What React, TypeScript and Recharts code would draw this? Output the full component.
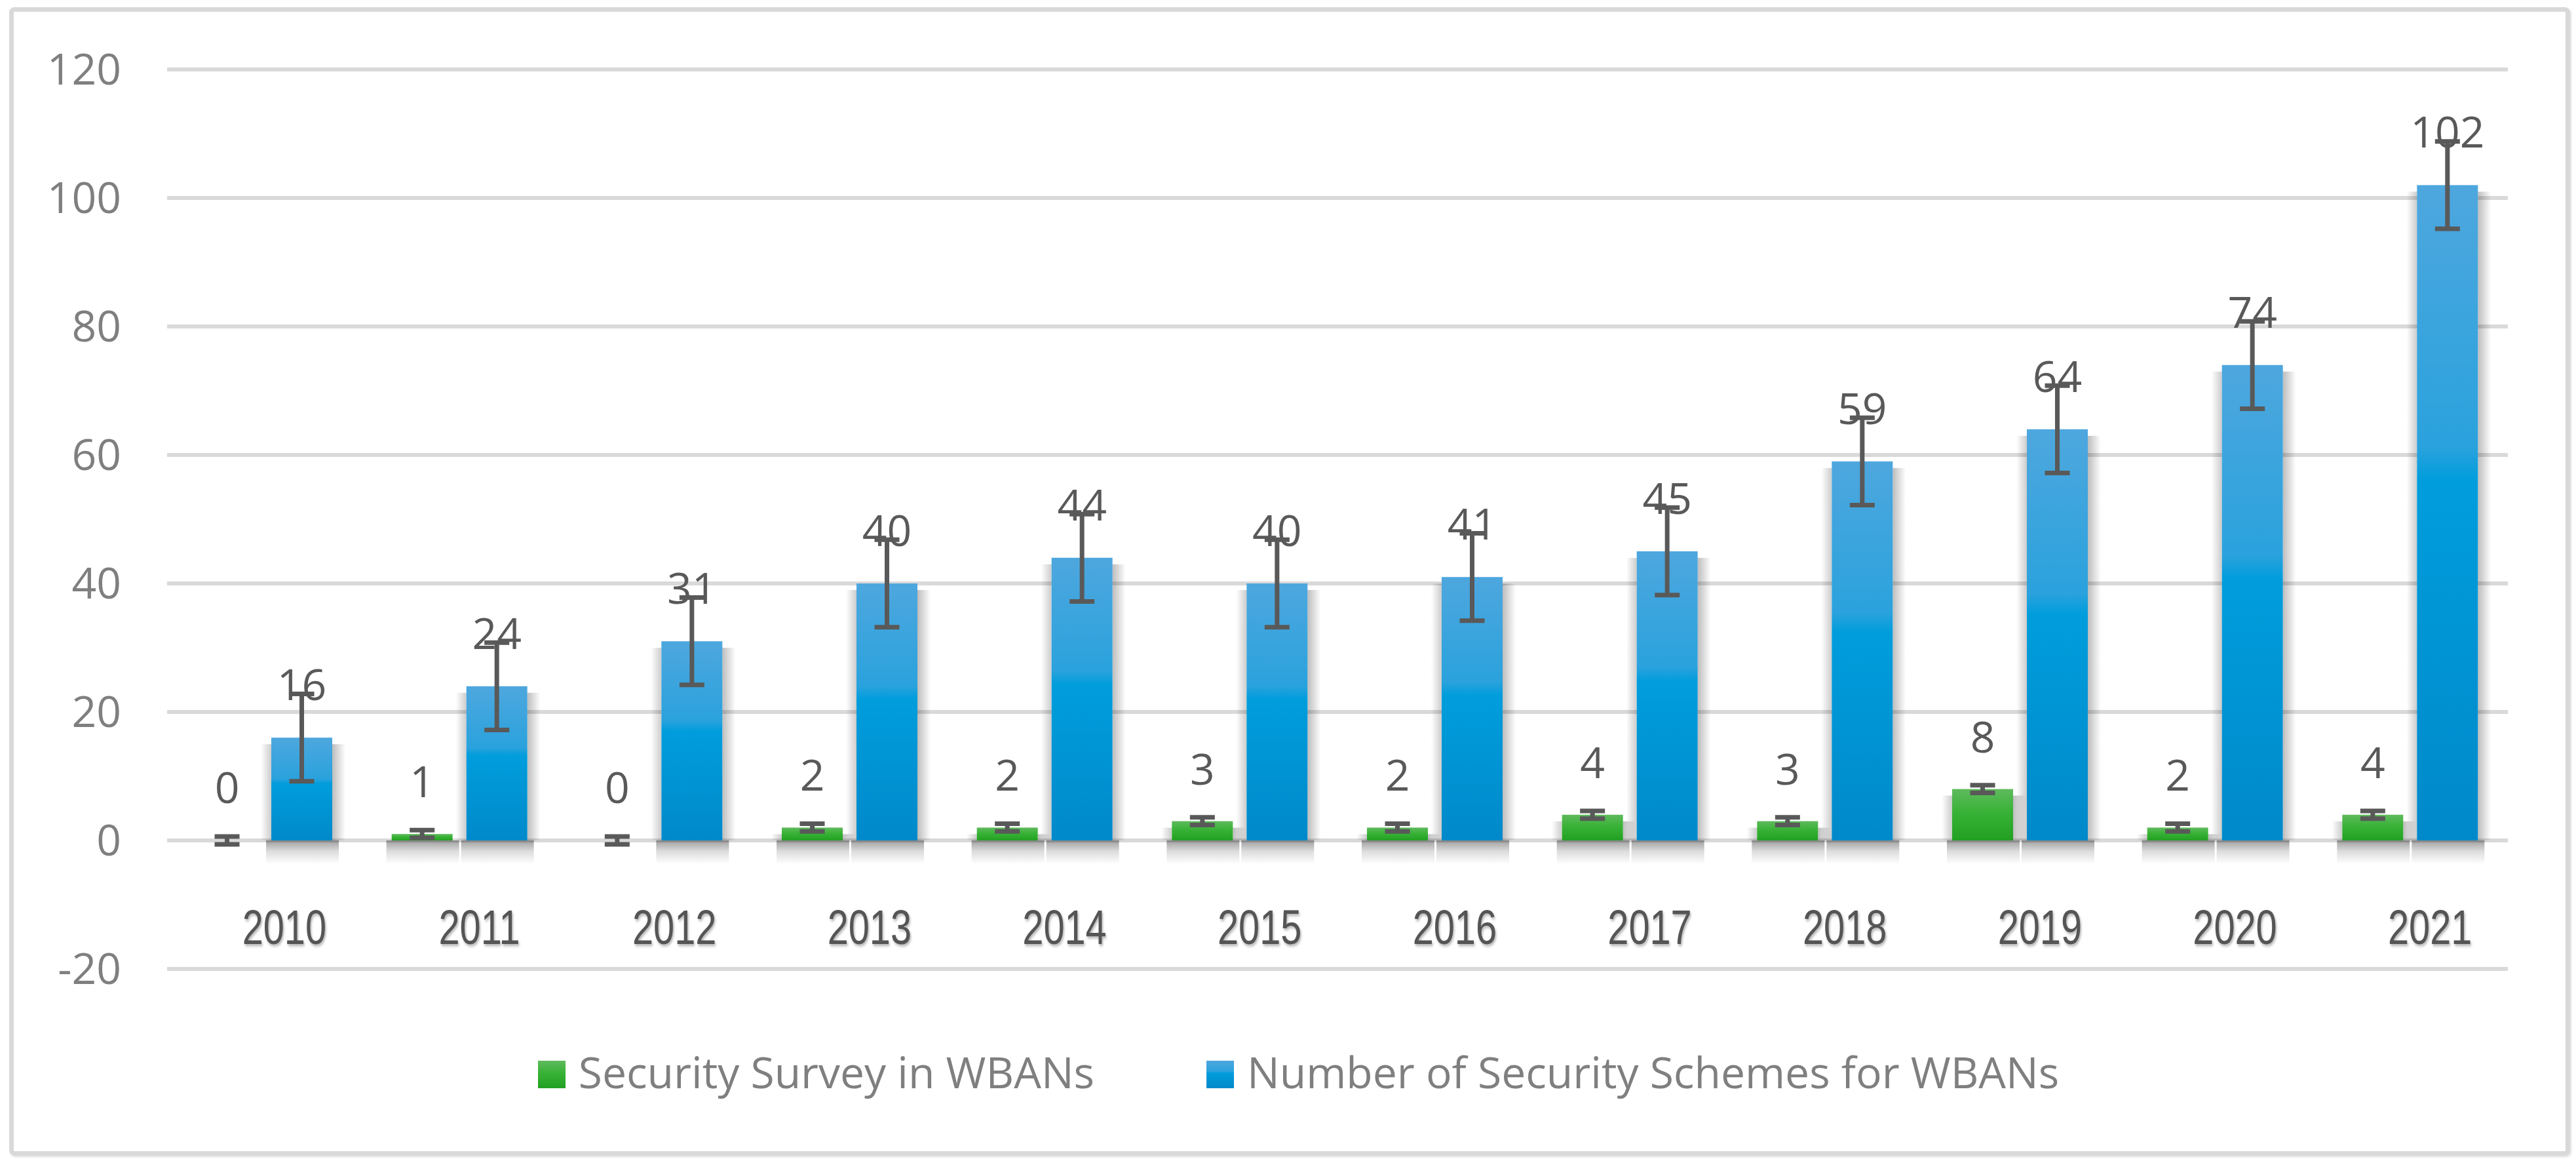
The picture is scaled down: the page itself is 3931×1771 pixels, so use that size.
import { BarChart, Bar, XAxis, YAxis, CartesianGrid, Legend, LabelList, ErrorBar } from 'recharts'

const years = ['2010', '2011', '2012', '2013', '2014', '2015', '2016', '2017', '2018', '2019', '2020', '2021']
const surveys = [0, 1, 0, 2, 2, 3, 2, 4, 3, 8, 2, 4]
const surveyErr = [0.6, 0.6, 0.6, 0.6, 0.6, 0.6, 0.6, 0.6, 0.6, 0.6, 0.6, 0.6]
const schemes = [16, 24, 31, 40, 44, 40, 41, 45, 59, 64, 74, 102]
const schemeErr = [6.8, 6.8, 6.8, 6.8, 6.8, 6.8, 6.8, 6.8, 6.8, 6.8, 6.8, 6.8]
const yTicks = [-20, 0, 20, 40, 60, 80, 100, 120]

const SURVEY_NAME = 'Security Survey in WBANs'
const SCHEME_NAME = 'Number of Security Schemes for WBANs'

const data = years.map((year, i) => ({
  year,
  survey: surveys[i],
  surveyErr: surveyErr[i],
  scheme: schemes[i],
  schemeErr: schemeErr[i],
}))

const GREEN_CSS = 'linear-gradient(#5fba5d 0%, #38b236 45%, #22a022 100%)'
const BLUE_CSS = 'linear-gradient(#4ea7de 0%, #2aa2dd 40%, #009ddc 45%, #0089ca 100%)'

const YearTick = ({ x, y, payload }: any) => (
  <g transform={`translate(${x + 30},${y - 38})`}>
    <text
      textAnchor="middle"
      transform="scale(0.78,1)"
      fontFamily="'Liberation Sans', Arial, sans-serif"
      fontSize={74}
      fill="#555"
      style={{ filter: 'drop-shadow(2px 3px 2px rgba(0,0,0,0.3))' }}
    >
      {payload.value}
    </text>
  </g>
)

// bar with a soft shadow (gradient strips under and beside it, like the Excel effect)
const ShadowBar = ({ x, y, width, height, fill }: any) => {
  if (!height || height < 1.5) return null
  const side = Math.max(0, height - 10)
  return (
    <g>
      <rect x={x - 8} y={y + height} width={width + 18} height={36} fill="url(#shadowDown)" />
      {side > 0 && <rect x={x - 16} y={y + 10} width={16} height={side} fill="url(#shadowLeft)" />}
      {side > 0 && <rect x={x + width} y={y + 10} width={20} height={side} fill="url(#shadowRight)" />}
      <rect x={x} y={y} width={width} height={height} fill={fill} />
    </g>
  )
}

const renderLegend = () => {
  const items = [
    { name: SURVEY_NAME, bg: GREEN_CSS },
    { name: SCHEME_NAME, bg: BLUE_CSS },
  ]
  return (
    <div
      style={{
        display: 'flex',
        justifyContent: 'center',
        alignItems: 'center',
        gap: 171,
        paddingLeft: 32,
        fontFamily: '"Open Sans", sans-serif',
        fontSize: 66,
        lineHeight: '66px',
        color: '#7f7f7f',
        whiteSpace: 'nowrap',
      }}
    >
      {items.map((it) => (
        <div key={it.name} style={{ display: 'flex', alignItems: 'center' }}>
          <span
            style={{
              display: 'inline-block',
              width: 42,
              height: 42,
              background: it.bg,
              marginRight: 20,
              position: 'relative',
              top: 5,
            }}
          />
          <span>{it.name}</span>
        </div>
      ))}
    </div>
  )
}

export default function App() {
  return (
    <div style={{ position: 'absolute', left: 0, top: 0, width: 3931, height: 1771, background: '#fff' }}>
      <div
        style={{
          position: 'absolute',
          left: 14,
          top: 11,
          width: 3908,
          height: 1752,
          boxSizing: 'border-box',
          border: '7px solid #d9d9d9',
          borderRadius: 8,
          boxShadow: '2px 2px 3px rgba(0,0,0,0.12)',
        }}
      />
      <div style={{ position: 'absolute', left: 0, top: 0 }}>
        <BarChart
          width={3931}
          height={1771}
          data={data}
          margin={{ top: 106, right: 104, bottom: 263, left: 55 }}
          barGap={21}
        >
          <defs>
            <linearGradient id="greenFill" x1="0" y1="0" x2="0" y2="1">
              <stop offset="0%" stopColor="#5fba5d" />
              <stop offset="45%" stopColor="#38b236" />
              <stop offset="100%" stopColor="#22a022" />
            </linearGradient>
            <linearGradient id="blueFill" x1="0" y1="0" x2="0" y2="1">
              <stop offset="0%" stopColor="#4ea7de" />
              <stop offset="40%" stopColor="#2aa2dd" />
              <stop offset="45%" stopColor="#009ddc" />
              <stop offset="100%" stopColor="#0089ca" />
            </linearGradient>
            <linearGradient id="shadowDown" x1="0" y1="0" x2="0" y2="1">
              <stop offset="0%" stopColor="#000" stopOpacity={0.38} />
              <stop offset="45%" stopColor="#000" stopOpacity={0.14} />
              <stop offset="100%" stopColor="#000" stopOpacity={0} />
            </linearGradient>
            <linearGradient id="shadowLeft" x1="1" y1="0" x2="0" y2="0">
              <stop offset="0%" stopColor="#000" stopOpacity={0.2} />
              <stop offset="100%" stopColor="#000" stopOpacity={0} />
            </linearGradient>
            <linearGradient id="shadowRight" x1="0" y1="0" x2="1" y2="0">
              <stop offset="0%" stopColor="#000" stopOpacity={0.26} />
              <stop offset="100%" stopColor="#000" stopOpacity={0} />
            </linearGradient>
          </defs>
          <CartesianGrid vertical={false} stroke="#d9d9d9" strokeWidth={6} />
          <XAxis
            dataKey="year"
            height={30}
            axisLine={false}
            tickLine={false}
            tickSize={0}
            tickMargin={0}
            interval={0}
            tick={<YearTick />}
          />
          <YAxis
            width={200}
            domain={[-20, 120]}
            ticks={yTicks}
            interval={0}
            axisLine={false}
            tickLine={false}
            tickSize={0}
            tickMargin={70}
            tick={{ fontFamily: '"Open Sans", sans-serif', fontSize: 66, fill: '#7f7f7f' }}
          />
          <Legend
            verticalAlign="middle"
            align="center"
            content={renderLegend}
            wrapperStyle={{ top: 1601, left: 0, width: 3931, margin: 0 }}
          />
          <Bar
            dataKey="survey"
            name={SURVEY_NAME}
            fill="url(#greenFill)"
            barSize={93}
            minPointSize={1}
            shape={<ShadowBar />}
            isAnimationActive={false}
          >
            <ErrorBar dataKey="surveyErr" direction="y" width={19} strokeWidth={7} stroke="#595959" isAnimationActive={false} />
            <LabelList
              dataKey="survey"
              position="top"
              offset={56}
              fill="#595959"
              fontSize={66}
              fontFamily='"Open Sans", sans-serif'
            />
          </Bar>
          <Bar
            dataKey="scheme"
            name={SCHEME_NAME}
            fill="url(#blueFill)"
            barSize={93}
            shape={<ShadowBar />}
            isAnimationActive={false}
          >
            <ErrorBar dataKey="schemeErr" direction="y" width={19} strokeWidth={7} stroke="#595959" isAnimationActive={false} />
            <LabelList
              dataKey="scheme"
              position="top"
              offset={57}
              fill="#595959"
              fontSize={66}
              fontFamily='"Open Sans", sans-serif'
            />
          </Bar>
        </BarChart>
      </div>
    </div>
  )
}
